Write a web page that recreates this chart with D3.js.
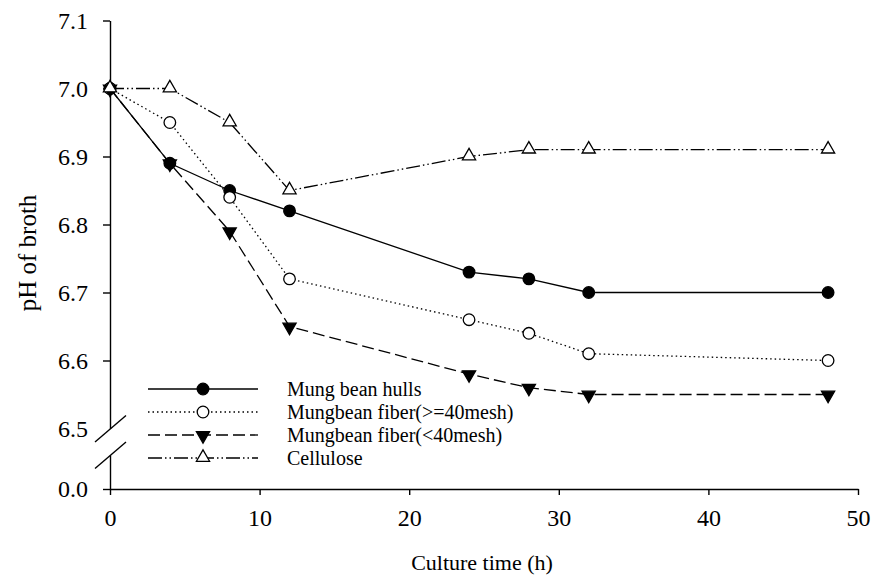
<!DOCTYPE html>
<html>
<head>
<meta charset="utf-8">
<script src="https://cdn.jsdelivr.net/npm/d3@7/dist/d3.min.js"></script>
<style>
  body { margin: 0; background: #fff; }
  svg text { font-family: "Liberation Serif", "Times New Roman", serif; fill: #000; }
</style>
</head>
<body>
<svg id="chart" width="873" height="575"></svg>
<script>
// culture time (h)
const hours = [0, 4, 8, 12, 24, 28, 32, 48];

const seriesNames = [
    'Mung bean hulls',
    'Mungbean fiber(>=40mesh)',
    'Mungbean fiber(<40mesh)',
    'Cellulose'
];
const hullsPH    = [7.00, 6.89, 6.85, 6.82, 6.73, 6.72, 6.70, 6.70];
const fiberBigPH = [7.00, 6.95, 6.84, 6.72, 6.66, 6.64, 6.61, 6.60];
const fiberSmlPH = [7.00, 6.89, 6.79, 6.65, 6.58, 6.56, 6.55, 6.55];
const cellulosePH = [7.00, 7.00, 6.95, 6.85, 6.90, 6.91, 6.91, 6.91];

const xTicks = [0, 10, 20, 30, 40, 50];
const yTicks = [6.5, 6.6, 6.7, 6.8, 6.9, 7.0, 7.1];
const yLowTicks = [0.0];

const svg = d3.select('#chart');

const x = d3.scaleLinear().domain([0, 50]).range([110, 858]);
// upper part of the broken y axis
const y = d3.scaleLinear().domain([6.5, 7.1]).range([428.5, 20.5]);
// lower stub below the break
const yLow = d3.scaleLinear().domain([0, 0.05]).range([489, 455]);

const styles = [
    { dash: null,                 marker: 'circle',   fill: '#000' },
    { dash: '1.5,3',              marker: 'circle',   fill: '#fff' },
    { dash: '12,5',               marker: 'triDown',  fill: '#000' },
    { dash: '14,3,1.5,3,1.5,3',   marker: 'triUp',    fill: '#fff' }
];
const series = [hullsPH, fiberBigPH, fiberSmlPH, cellulosePH];

// axes
const xAxis = svg.append('g')
    .attr('transform', `translate(0,${yLow(0)})`)
    .call(d3.axisBottom(x).tickValues(xTicks).tickSize(6).tickSizeOuter(0).tickPadding(14).tickFormat(d3.format('d')));

const yAxis = svg.append('g')
    .attr('transform', `translate(${x(0)},0)`)
    .call(d3.axisLeft(y).tickValues(yTicks).tickSize(7).tickSizeOuter(0).tickPadding(15).tickFormat(d3.format('.1f')));
yAxis.selectAll('.tick').filter(d => d === 6.5).select('line').remove();

const yLowAxis = svg.append('g')
    .attr('transform', `translate(${x(0)},0)`)
    .call(d3.axisLeft(yLow).tickValues(yLowTicks).tickSize(7).tickSizeOuter(0).tickPadding(15).tickFormat(d3.format('.1f')));

[xAxis, yAxis, yLowAxis].forEach(g => {
    g.selectAll('path, line').attr('stroke', '#000').attr('stroke-width', 1.4);
    g.selectAll('text')
        .style('font-size', '24px')
        .style('font-family', '"Liberation Serif", "Times New Roman", serif')
        .attr('fill', '#000');
});

// break marks
[y(6.5), yLow(0.05)].forEach(yy => {
    svg.append('line')
        .attr('x1', x(0) - 15).attr('y1', yy + 13.5)
        .attr('x2', x(0) + 16).attr('y2', yy - 13)
        .attr('stroke', '#000').attr('stroke-width', 1.4);
});

const triUp = d3.symbol().type(d3.symbolTriangle).size(75);
const drawMarker = (g, type, fill, cx, cy) => {
    if (type === 'circle') {
        g.append('circle')
            .attr('cx', cx).attr('cy', cy).attr('r', 5.8)
            .attr('fill', fill).attr('stroke', '#000').attr('stroke-width', 1.3);
    } else {
        const rot = type === 'triDown' ? 180 : 0;
        g.append('path')
            .attr('d', triUp())
            .attr('transform', `translate(${cx},${cy + (rot ? 0.5 : -0.5)}) rotate(${rot})`)
            .attr('fill', fill).attr('stroke', '#000').attr('stroke-width', 1.3);
    }
};

const line = d3.line()
    .x((_, i) => x(hours[i]))
    .y(d => y(d));

series.forEach((vals, k) => {
    const st = styles[k];
    const g = svg.append('g');
    g.append('path')
        .datum(vals)
        .attr('fill', 'none')
        .attr('stroke', '#000')
        .attr('stroke-width', 1.3)
        .attr('stroke-dasharray', st.dash)
        .attr('d', line);
    vals.forEach((v, i) => drawMarker(g, st.marker, st.fill, x(hours[i]), y(v)));
});

// legend
const legendRows = [389, 412, 435, 458];
seriesNames.forEach((name, k) => {
    const st = styles[k];
    const g = svg.append('g');
    g.append('line')
        .attr('x1', 148).attr('x2', 258)
        .attr('y1', legendRows[k]).attr('y2', legendRows[k])
        .attr('stroke', '#000').attr('stroke-width', 1.3)
        .attr('stroke-dasharray', st.dash);
    drawMarker(g, st.marker, st.fill, 203, legendRows[k]);
    g.append('text')
        .attr('x', 287).attr('y', legendRows[k])
        .attr('dy', '0.35em')
        .style('font-size', '20px')
        .text(name);
});

// axis titles
svg.append('text')
    .attr('x', 482).attr('y', 570)
    .attr('text-anchor', 'middle')
    .style('font-size', '22px')
    .text('Culture time (h)');

svg.append('text')
    .attr('transform', 'translate(36,253) rotate(-90)')
    .attr('text-anchor', 'middle')
    .style('font-size', '25px')
    .text('pH of broth');
</script>
</body>
</html>
